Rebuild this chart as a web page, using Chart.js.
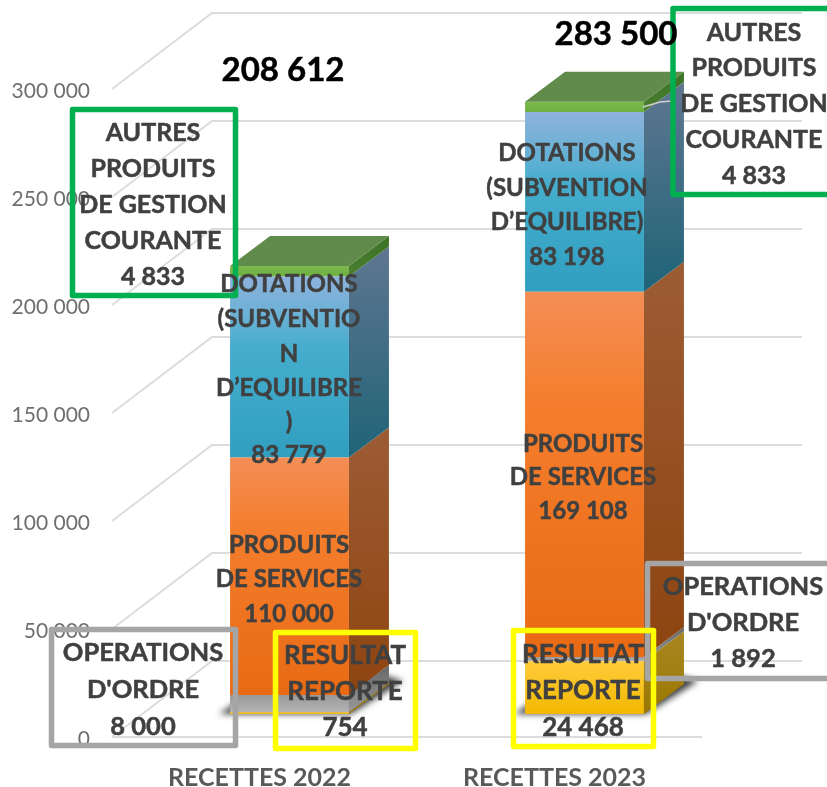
<!DOCTYPE html>
<html><head><meta charset="utf-8">
<style>html,body{margin:0;padding:0;background:#fff}canvas{display:block}</style>
<script src="https://cdn.jsdelivr.net/npm/chart.js@4"></script></head>
<body><canvas id="c" width="827" height="787"></canvas>
<script>
const categories=['RECETTES 2022','RECETTES 2023'];
const resultatReporte=[754,24468];
const operationsOrdre=[8000,1892];
const produitsServices=[110000,169108];
const dotations=[83779,83198];
const autresProduits=[4833,4833];
const totals=[208612,283500];
const yTicks=[0,50000,100000,150000,200000,250000,300000];

const fmt=v=>String(v).replace(/\B(?=(\d{3})+$)/g,' ');
const FONT='Lato, "Open Sans", sans-serif';
const frontGrad={
 gold:[[0,'#FFCC3C'],[1,'#F2B800']],
 gray:[[0,'#999999'],[1,'#B5B5B5']],
 orange:[[0,'#F48E56'],[.3,'#F47E2D'],[1,'#E96A14']],
 blue:[[0,'#8EB2DC'],[.2,'#6DB1D6'],[.4,'#45ADCD'],[1,'#319FC0']],
 green:[[0,'#7DB84D'],[1,'#6CB040']]};
const sideGrad={
 gold:['#AA8622','#9A7800'],gray:['#666666','#9A9A9A'],orange:['#9C5C34','#8E4410'],
 blue:['#5F7691','#1F6477'],green:['#3C7226','#4A7F30']};
const seriesDefs=[['Résultat reporté',resultatReporte,'gold'],['Opérations d\'ordre',operationsOrdre,'gray'],
 ['Produits de services',produitsServices,'orange'],['Dotations',dotations,'blue'],['Autres produits',autresProduits,'green']];
const topFace='#618B4A';
const shift={x:30,y:23},depth={x:40,y:30},wall={x:100,y:76};

function stops(g,list){list.forEach(s=>g.addColorStop(s[0],s[1]));return g;}
function barFill(c){
 const ch=c.chart,y=ch.scales.y,key=seriesDefs[c.datasetIndex][2];
 if(!y||!ch.chartArea)return frontGrad[key][0][1];
 let start=0;
 for(let i=0;i<c.datasetIndex;i++)start+=ch.data.datasets[i].data[c.dataIndex];
 const end=start+ch.data.datasets[c.datasetIndex].data[c.dataIndex];
 return stops(ch.ctx.createLinearGradient(0,y.getPixelForValue(end),0,y.getPixelForValue(start)),frontGrad[key]);
}

const callouts=[
 {box:[72.5,109.5,163,186],c:'#00B050',cx:153,ys:[132,168,204,240,276],size:25,lines:['AUTRES','PRODUITS','DE GESTION','COURANTE',fmt(autresProduits[0])]},
 {box:[673,8.5,170,186],c:'#00B050',cx:754,ys:[32,67,103,139,175],size:25,lines:['AUTRES','PRODUITS','DE GESTION','COURANTE',fmt(autresProduits[1])]},
 {cx:289,ys:[283,318,353,387,421,454],size:24,lines:['DOTATIONS','(SUBVENTIO','N','D’EQUILIBRE',')',fmt(dotations[0])]},
 {cx:567,ys:[152,187,221,256],size:24,lines:['DOTATIONS','(SUBVENTION','D’EQUILIBRE)',fmt(dotations[1])]},
 {cx:289,ys:[544,578,613],size:24,lines:['PRODUITS','DE SERVICES',fmt(produitsServices[0])]},
 {cx:583,ys:[443,476,510],size:24,lines:['PRODUITS','DE SERVICES',fmt(produitsServices[1])]},
 {box:[51.5,629.5,184,116],c:'#A5A5A5',cx:143,ys:[652,689,726],size:25.5,lines:['OPERATIONS','D\'ORDRE',fmt(operationsOrdre[0])]},
 {box:[647.5,563.5,190,115],c:'#A5A5A5',cx:743,ys:[586,622,658],size:25.5,lines:['OPERATIONS','D\'ORDRE',fmt(operationsOrdre[1])]},
 {box:[275.5,632.5,140,116],c:'#FFFF00',cx:345,ys:[655,691,727],size:26,lines:['RESULTAT','REPORTE',fmt(resultatReporte[0])]},
 {box:[513.5,630.5,140,116],c:'#FFFF00',cx:583,ys:[654,690,727],size:26,lines:['RESULTAT','REPORTE',fmt(resultatReporte[1])]}
];
const totalLabels=[{cx:283,y:69},{cx:616,y:33}];

function poly(ctx,p,fill){ctx.beginPath();p.forEach((q,i)=>i?ctx.lineTo(q[0],q[1]):ctx.moveTo(q[0],q[1]));ctx.closePath();ctx.fillStyle=fill;ctx.fill();}

const scene={
 id:'scene',
 beforeDatasetsDraw(ch){
  const ctx=ch.ctx,a=ch.chartArea,y=ch.scales.y;
  ctx.save();ctx.strokeStyle='#DCDCDC';ctx.lineWidth=2;
  yTicks.forEach(v=>{
   const p=y.getPixelForValue(v);
   ctx.beginPath();ctx.moveTo(a.left,p);ctx.lineTo(a.left+wall.x,p-wall.y);ctx.lineTo(a.right+wall.x,p-wall.y);ctx.stroke();
  });
  const p0=y.getPixelForValue(0);
  ctx.beginPath();ctx.moveTo(a.left,p0);ctx.lineTo(a.right,p0);ctx.stroke();
  ctx.restore();
  ctx.save();ctx.translate(shift.x,-shift.y);
  const m=ch.getDatasetMeta(0);
  m.data.forEach(b=>{
   const x0=b.x-b.width/2,x1=b.x+b.width/2,yb=y.getPixelForValue(0);
   ctx.save();ctx.shadowColor='rgba(30,30,30,.85)';ctx.shadowBlur=6;ctx.shadowOffsetX=3000;
   poly(ctx,[[x0-11-3000,yb],[x1+2-3000,yb],[x1+54-3000,yb-33],[x1+30-3000,yb-40],[x0+10-3000,yb-14]],'#000');
   ctx.restore();
  });
 },
 afterDatasetsDraw(ch){
  const ctx=ch.ctx;
  ch.data.datasets.forEach((ds,i)=>{
   const key=seriesDefs[i][2];
   ch.getDatasetMeta(i).data.forEach(b=>{
    const x1=b.x+b.width/2;
    const g=ctx.createLinearGradient(0,b.y-depth.y,0,b.base);
    g.addColorStop(0,sideGrad[key][0]);g.addColorStop(1,sideGrad[key][1]);
    poly(ctx,[[x1,b.y],[x1+depth.x,b.y-depth.y],[x1+depth.x,b.base-depth.y],[x1,b.base]],g);
   });
  });
  const last=ch.getDatasetMeta(ch.data.datasets.length-1);
  last.data.forEach(b=>{
   const x0=b.x-b.width/2,x1=b.x+b.width/2;
   poly(ctx,[[x0,b.y],[x1,b.y],[x1+depth.x,b.y-depth.y],[x0+depth.x,b.y-depth.y]],topFace);
  });
  ctx.restore();
 },
 afterDraw(ch){
  const ctx=ch.ctx,dy=1;
  ctx.save();
  ctx.strokeStyle='#CFCFCF';ctx.lineWidth=1.5;ctx.beginPath();ctx.moveTo(643,107);ctx.lineTo(660,102);ctx.lineTo(672,101);ctx.stroke();
  ctx.textAlign='center';ctx.textBaseline='middle';
  callouts.forEach(o=>{
   if(o.box){ctx.strokeStyle=o.c;ctx.lineWidth=5.5;ctx.lineJoin='round';ctx.strokeRect(o.box[0],o.box[1],o.box[2],o.box[3]);}
  });
  ctx.lineJoin='round';
  callouts.forEach(o=>{
   ctx.fillStyle='#404040';ctx.strokeStyle='#404040';ctx.lineWidth=.5;ctx.font='bold '+o.size+'px '+FONT;
   o.lines.forEach((t,i)=>{ctx.fillText(t,o.cx,o.ys[i]+dy);ctx.strokeText(t,o.cx,o.ys[i]+dy);});
  });
  ctx.fillStyle='#000';ctx.strokeStyle='#000';ctx.font='bold 33px '+FONT;
  totalLabels.forEach((t,i)=>{ctx.fillText(fmt(totals[i]),t.cx,t.y+dy);ctx.strokeText(fmt(totals[i]),t.cx,t.y+dy);});
  ctx.restore();
 }
};

new Chart(document.getElementById('c'),{
 type:'bar',
 data:{labels:categories,datasets:seriesDefs.map(s=>({label:s[0],data:s[1],backgroundColor:barFill,borderWidth:0,clip:false,barPercentage:.403,categoryPercentage:1}))},
 options:{responsive:false,animation:false,
  layout:{padding:{top:89,right:125,left:0,bottom:0}},
  plugins:{legend:{display:false},title:{display:false},tooltip:{enabled:false}},
  scales:{
   x:{stacked:true,grid:{display:false},border:{display:false},
      afterFit(s){s.height=50;},
      ticks:{color:'#595959',font:{family:FONT,size:25,weight:'bold'},padding:18,maxRotation:0}},
   y:{stacked:true,min:0,max:300000,grid:{display:false,drawTicks:false},border:{display:false},
      afterFit(s){s.width=112;},
      afterBuildTicks(s){s.ticks=yTicks.map(v=>({value:v}));},
      ticks:{color:'#6F6F6F',font:{family:FONT,size:21},padding:22,labelOffset:2,callback:v=>fmt(v)}}
  }},
 plugins:[scene]
});
</script></body></html>
